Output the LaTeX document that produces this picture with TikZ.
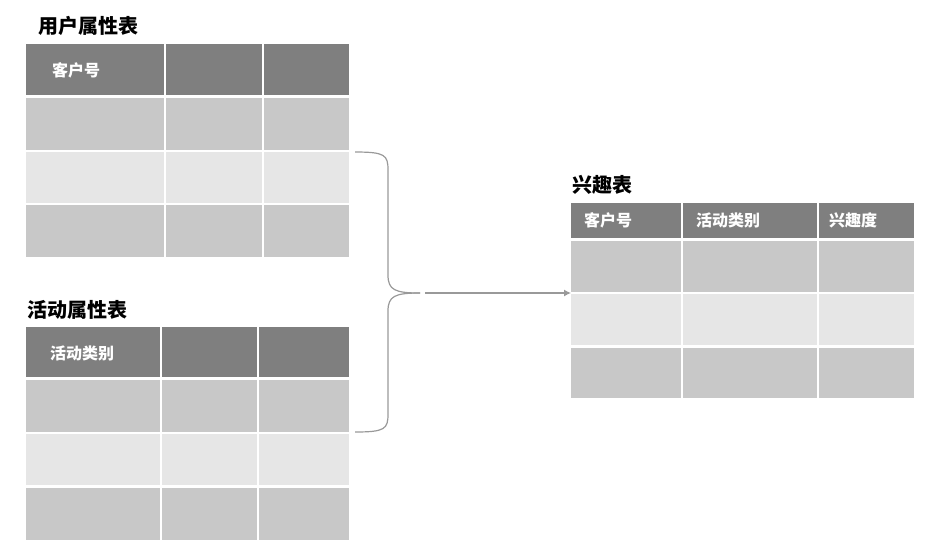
\documentclass[tikz,border=0pt]{standalone}
\usepackage{fontspec}
\usetikzlibrary{arrows.meta}
\setmainfont{Noto Sans CJK SC}
\definecolor{hd}{HTML}{7F7F7F}
\definecolor{ra}{HTML}{C8C8C8}
\definecolor{rb}{HTML}{E6E6E6}
\tikzset{cell/.style={anchor=north west,inner sep=0pt,outer sep=0pt},
 ttl/.style={anchor=west,font=\fontsize{20}{22}\selectfont\bfseries,inner sep=0pt},
 htxt/.style={anchor=west,text=white,font=\fontsize{16}{18}\selectfont\bfseries,inner sep=0pt},
 brace/.style={draw=gray!80,line width=1.2pt}}
\begin{document}
\begin{tikzpicture}[x=1pt,y=-1pt]
\useasboundingbox (0,0) rectangle (928,550);
% table 1
\foreach \xa/\xb/\c in {26/164/1,166/262/2,264/349/3}{
 \foreach \ya/\yb/\r/\col in {44/95/1/hd,98/150/2/ra,152/203/3/rb,205/257/4/ra}{
  \node[cell,fill=\col,minimum width=\xb-\xa,minimum height=\yb-\ya] (a-\r-\c) at (\xa,\ya) {};
 }}
\node[ttl] (ta) at (38,26) {用户属性表};
\node[htxt] (ha) at (52,70) {客户号};
% table 2
\foreach \xa/\xb/\c in {26/160/1,162/257/2,259/349/3}{
 \foreach \ya/\yb/\r/\col in {327/377/1/hd,380/432/2/ra,434/485/3/rb,488/540/4/ra}{
  \node[cell,fill=\col,minimum width=\xb-\xa,minimum height=\yb-\ya] (b-\r-\c) at (\xa,\ya) {};
 }}
\node[ttl] (tb) at (27,310) {活动属性表};
\node[htxt] (hb) at (50,353) {活动类别};
% table 3
\foreach \xa/\xb/\c in {571/681/1,683/817/2,819/914/3}{
 \foreach \ya/\yb/\r/\col in {203/238/1/hd,241/292/2/ra,294/345/3/rb,348/398/4/ra}{
  \node[cell,fill=\col,minimum width=\xb-\xa,minimum height=\yb-\ya] (c-\r-\c) at (\xa,\ya) {};
 }}
\node[ttl] (tc) at (572,185) {兴趣表};
\node[htxt] (hc1) at (584,220) {客户号};
\node[htxt] (hc2) at (696,220) {活动类别};
\node[htxt] (hc3) at (829,220) {兴趣度};
% brace and arrow
\coordinate (bt) at (355,152);
\coordinate (bb) at (355,432);
\coordinate (bm) at (420,293);
\coordinate (as) at (425,293);
\draw[brace] (bt) .. controls (385,152) and (388,155) .. (388,170) -- (388,275)
  .. controls (388,290) and (395,293) .. (bm);
\draw[brace] (bb) .. controls (385,432) and (388,429) .. (388,414) -- (388,311)
  .. controls (388,296) and (395,293) .. (bm);
\draw[brace,-{Latex[length=7pt,width=7pt]}] (as) -- (c-3-1.west |- as);
\end{tikzpicture}
\end{document}
